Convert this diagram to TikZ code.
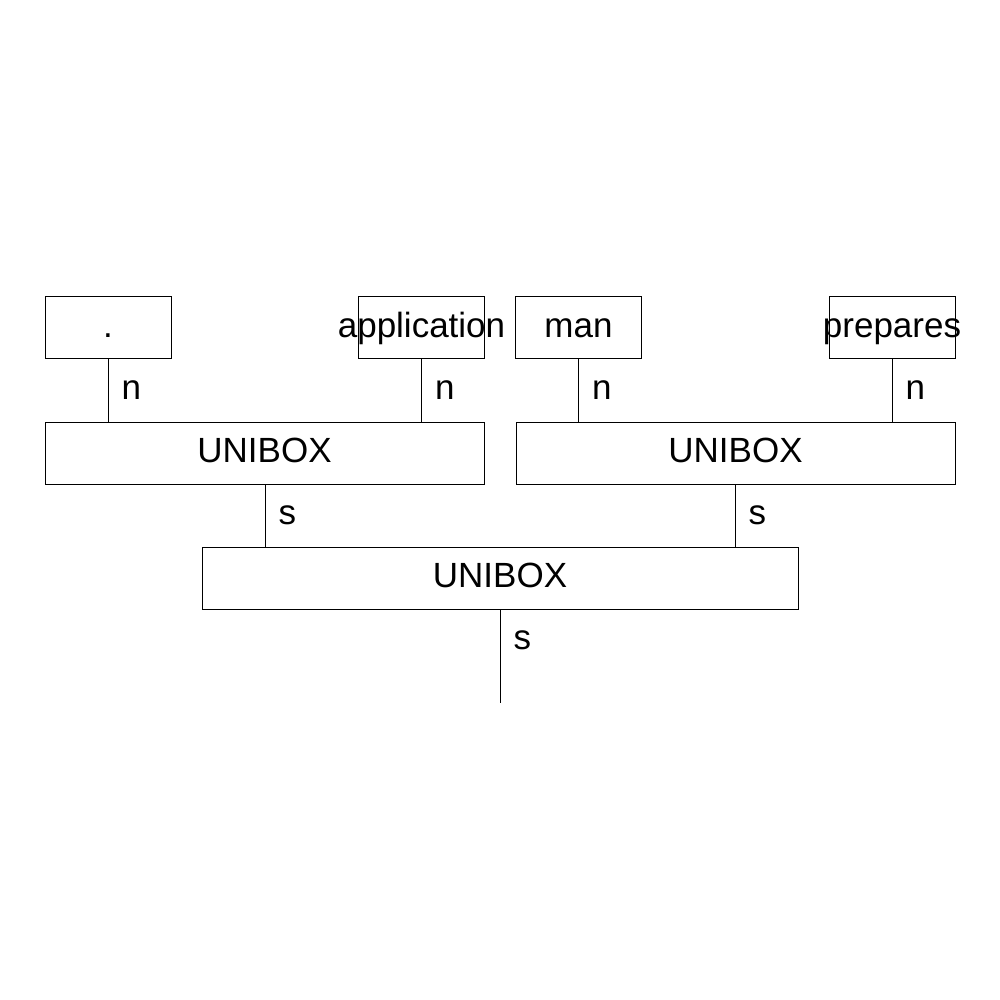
\documentclass[tikz,border=0pt]{standalone}
\usepackage{fontspec}
\setmainfont{Liberation Sans}
\begin{document}
\begin{tikzpicture}[x=1pt,y=-1pt,
  txt/.style={font=\fontsize{35}{42}\selectfont},
  box/.style={draw, line width=1pt, inner sep=0pt, minimum height=62pt, txt,
    text depth=0pt},
  leaf/.style={box, minimum width=126pt, text height=19.5pt},
  unibox/.style={box, text height=19pt},
  wire/.style={line width=1pt},
  tag/.style={anchor=base west, inner sep=0pt, xshift=13pt, txt}]
\useasboundingbox (0,0) rectangle (1000,1000);
% word boxes
\node[leaf] (dot)  at (108,327.5)   {\makebox[0pt]{.}};
\node[leaf] (app)  at (421.5,327.5) {\makebox[0pt]{application}};
\node[leaf] (man)  at (578.5,327.5) {\makebox[0pt]{man}};
\node[leaf] (prep) at (892,327.5)   {\makebox[0pt]{prepares}};
% combining boxes
\node[unibox, minimum width=439pt] (uL) at (264.5,453) {UNIBOX};
\node[unibox, minimum width=439pt] (uR) at (735.5,453) {UNIBOX};
\node[unibox, minimum width=596pt] (uB) at (500,578) {UNIBOX};
\coordinate (out) at (500,703);
% connectors
\foreach \w/\u in {dot/uL, app/uL, man/uR, prep/uR}
  \draw[wire] (\w.south) -- node[tag, pos=0.64] (n-\w) {n} (\w.south |- \u.north);
\draw[wire] (uL.south -| 265,0) -- node[tag, pos=0.643] (sL) {s} (uB.north -| 265,0);
\draw[wire] (uR.south -| 735,0) -- node[tag, pos=0.643] (sR) {s} (uB.north -| 735,0);
\draw[wire] (uB.south) -- node[tag, pos=0.426] (sB) {s} (out);
\end{tikzpicture}
\end{document}
